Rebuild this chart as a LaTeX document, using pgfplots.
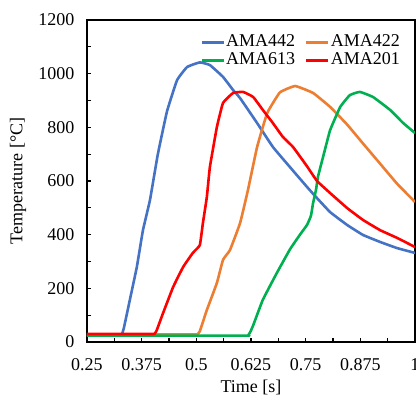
\documentclass[border=0pt]{standalone}
\usepackage{fontspec}
\setmainfont{Liberation Serif}
\usepackage{pgfplots}
\pgfplotsset{compat=1.18}
\definecolor{cblue}{HTML}{4472C4}
\definecolor{corange}{HTML}{ED7D31}
\definecolor{cgreen}{HTML}{00B050}
\definecolor{cred}{HTML}{FF0000}
\begin{document}
\begin{tikzpicture}
\begin{axis}[
  scale only axis,
  width=328pt, height=322pt,
  xmin=0.25, xmax=1, ymin=0, ymax=1200,
  font=\fontsize{18}{18}\selectfont,
  /pgf/number format/assume math mode=true,
  axis line style={line width=2pt},
  xtick={0.25,0.375,0.5,0.625,0.75,0.875,1},
  xticklabels={0.25,0.375,0.5,0.625,0.75,0.875,1},
  ytick={0,200,400,600,800,1000,1200},
  yticklabels={0,200,400,600,800,1000,1200},
  minor x tick num=1, minor y tick num=1,
  tick align=inside,
  xtick pos=bottom, ytick pos=left,
  major tick length=4pt, minor tick length=4pt,
  tick style={line width=1.2pt, black},
  minor tick style={line width=1.2pt, black},
  xticklabel style={anchor=base, yshift=-28pt},
  yticklabel style={anchor=east, xshift=-9pt},
  xlabel={Time [s]},
  ylabel={Temperature [°C]},
  xlabel style={at={(axis description cs:0.5,0)}, anchor=base, yshift=-50pt},
  ylabel style={at={(axis description cs:-0.21,0.5)}, anchor=center, rotate=0},
  legend columns=2,
  legend style={draw=none, fill=none, at={(rel axis cs:1,1)}, anchor=north east,
    xshift=-14pt, yshift=-13pt, inner sep=0pt,
    nodes={inner sep=1pt, text height=12pt, text depth=4pt},
    /tikz/every even column/.append style={column sep=9pt}},
  legend image code/.code={\draw[#1] (0pt,0pt) -- (22pt,0pt);},
  every axis plot/.append style={line width=2.6pt, line join=round, smooth, tension=0.2},
]
\addplot[cblue] coordinates {
(0.25,26)(0.32,26)(0.329,26)(0.334,50)(0.348,157)(0.364,280)(0.378,417)(0.394,529)
(0.412,700)(0.433,860)(0.456,976)(0.479,1025)(0.508,1042)(0.531,1032)(0.561,988)(0.584,939)
(0.600,909)(0.639,816)(0.675,727)(0.714,652)(0.753,578)(0.771,545)(0.806,484)(0.845,436)
(0.881,399)(0.920,373)(0.959,350)(1.0,332)};
\addlegendentry{AMA442}
\addplot[corange] coordinates {
(0.25,28)(0.49,28)(0.502,28)(0.508,40)(0.524,119)(0.547,220)(0.561,306)(0.577,343)(0.600,443)(0.618,566)
(0.639,727)(0.662,853)(0.691,930)(0.726,954)(0.767,928)(0.806,876)(0.845,810)(0.881,740)
(0.920,665)(0.959,590)(1.0,522)};
\addlegendentry{AMA422}
\addplot[cgreen] coordinates {
(0.25,24)(0.61,24)(0.618,24)(0.623,36)(0.630,62)(0.652,157)(0.684,257)(0.714,345)(0.737,400)(0.753,436)
(0.762,470)(0.767,518)(0.774,570)(0.778,615)(0.794,716)(0.806,790)(0.829,876)(0.851,920)
(0.874,932)(0.904,913)(0.943,865)(0.973,816)(1.0,779)};
\addlegendentry{AMA613}
\addplot[cred] coordinates {
(0.25,30)(0.395,30)(0.404,30)(0.409,42)(0.424,108)(0.447,205)(0.470,280)(0.492,332)(0.508,361)(0.515,443)
(0.524,540)(0.531,652)(0.547,801)(0.561,891)(0.584,928)(0.607,932)(0.630,913)(0.652,865)
(0.675,816)(0.698,764)(0.721,727)(0.753,655)(0.776,600)(0.806,555)(0.845,499)(0.881,455)
(0.920,417)(0.959,388)(1.0,354)};
\addlegendentry{AMA201}
\end{axis}
\pgfresetboundingbox
\path[use as bounding box] (-87pt,-55pt) rectangle (329pt,342pt);
\end{tikzpicture}
\end{document}
